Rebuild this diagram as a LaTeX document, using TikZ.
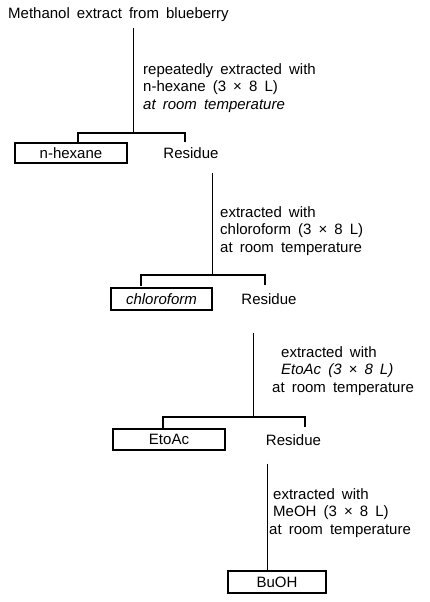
\documentclass[tikz,border=0pt]{standalone}
\usepackage{fontspec}
\setmainfont{Liberation Sans}[WordSpace=1.7]
\usetikzlibrary{calc}
\begin{document}
\begin{tikzpicture}[x=1pt,y=-1pt,
  txt/.style={inner sep=0pt,font=\fontsize{15}{17.5}\selectfont},
  lbl/.style={txt,align=left,anchor=north west},
  mid/.style={txt,text height=10.7pt,text depth=0pt,anchor=center},
  fbox/.style={mid,draw,line width=2.4pt,minimum height=20pt},
  vline/.style={line width=0.8pt},
  bar/.style={line width=1.6pt}]
\useasboundingbox (0,0) rectangle (430,602);
\fill[white] (0,0) rectangle (430,602);

% title
\node[txt,anchor=base west] (title) at (8,18.3) {Methanol extract from blueberry};

% stage 1
\node[lbl] (l1) at (143,63.3) {repeatedly extracted with\\n-hexane (3 × 8 L)\\\textit{at room temperature}};
\coordinate (j1) at (133,133);
\coordinate (b1l) at (78,133);
\coordinate (b1r) at (185,133);
\node[fbox,minimum width=112pt] (hex) at (71,153) {n-hexane};
\node[mid] (res1) at (191,153) {Residue};
\draw[vline] ($(title.south -| j1)+(0,6)$) -- (j1);
\draw[bar] ($(b1l)+(0,9)$) -- (b1l) -- (b1r) -- ++(0,9);

% stage 2
\node[lbl] (l2) at (220,206.3) {extracted with\\chloroform (3 × 8 L)\\at room temperature};
\coordinate (j2) at (212,275);
\coordinate (b2l) at (141,275);
\coordinate (b2r) at (265,275);
\node[fbox,minimum width=101pt,minimum height=22pt] (chl) at (161.5,299) {\textit{chloroform}};
\node[mid] (res2) at (269,299) {Residue};
\draw[vline] ($(res1.south -| j2)+(0,14)$) -- (j2);
\draw[bar] ($(b2l)+(0,11)$) -- (b2l) -- (b2r) -- ++(0,10);

% stage 3
\node[lbl] (l3) at (272,346.3) {\hspace*{9pt}extracted with\\\hspace*{9pt}\textit{EtoAc (3 × 8 L)}\\at room temperature};
\coordinate (j3) at (253,417);
\coordinate (b3l) at (163,417);
\coordinate (b3r) at (305,417);
\node[fbox,minimum width=112pt,minimum height=21pt] (eto) at (169,439.5) {EtoAc};
\node[mid] (res3) at (293.5,440) {Residue};
\draw[vline] ($(res2.south -| j3)+(0,28)$) -- (j3);
\draw[bar] ($(b3l)+(0,11)$) -- (b3l) -- (b3r) -- ++(0,10);

% stage 4
\node[lbl] (l4) at (269,488.3) {\hspace*{4pt}extracted with\\\hspace*{4pt}MeOH (3 × 8 L)\\at room temperature};
\node[fbox,minimum width=98pt,minimum height=22pt] (buoh) at (277,582) {BuOH};
\draw[vline] ($(res3.south -| 267,0)+(0,18)$) -- (buoh.north -| 267,0);
\end{tikzpicture}
\end{document}
